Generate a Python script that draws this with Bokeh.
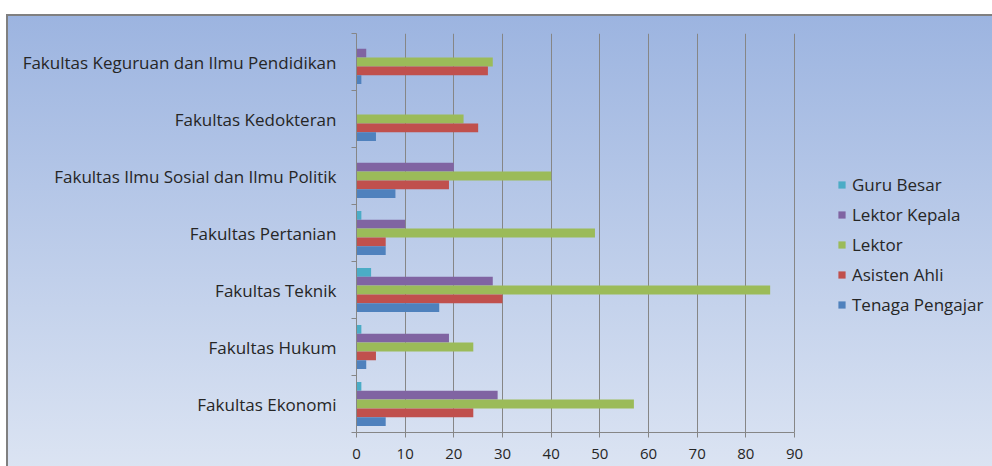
from bokeh.plotting import figure
from bokeh.models import ColumnDataSource, Range1d, FixedTicker, Legend, LegendItem
from bokeh.transform import dodge
from bokeh.embed import file_html
from bokeh.resources import INLINE

# Categories (bottom to top)
categories = ["Fakultas Ekonomi", "Fakultas Hukum", "Fakultas Teknik",
              "Fakultas Pertanian", "Fakultas Ilmu Sosial dan Ilmu Politik",
              "Fakultas Kedokteran", "Fakultas Keguruan dan Ilmu Pendidikan"]

guru_besar      = [1, 1, 3, 1, 0, 0, 0]
lektor_kepala   = [29, 19, 28, 10, 20, 0, 2]
lektor          = [57, 24, 85, 49, 40, 22, 28]
asisten_ahli    = [24, 4, 30, 6, 19, 25, 27]
tenaga_pengajar = [6, 2, 17, 6, 8, 4, 1]

series_names = ["Guru Besar", "Lektor Kepala", "Lektor", "Asisten Ahli", "Tenaga Pengajar"]
series_values = [guru_besar, lektor_kepala, lektor, asisten_ahli, tenaga_pengajar]
colors = ["#4BACC6", "#8064A2", "#9BBB59", "#C0504D", "#4F81BD"]

x_ticks = [0, 10, 20, 30, 40, 50, 60, 70, 80, 90]
x_max = 90

FONT = "Open Sans"
TEXT = "#262626"
LINE = "#868686"

W, H = 992, 466
LEFT, TOP, BOTTOM = 356, 33, 34
AXIS_PX = 438          # pixel length of the 0..90 value axis
frame_w = W - LEFT
x_end = x_max * frame_w / AXIS_PX   # frame extends beyond 90 to hold the legend

centers = [i + 0.5 for i in range(len(categories))]
data = {"y": centers}
for name, vals in zip(series_names, series_values):
    data[name] = vals
source = ColumnDataSource(data)

p = figure(width=W, height=H, output_backend="svg", toolbar_location=None,
           x_range=Range1d(0, x_end), y_range=Range1d(0, len(categories)),
           min_border_left=LEFT, min_border_right=0, min_border_top=TOP,
           min_border_bottom=BOTTOM)

p.background_fill_color = None
p.border_fill_color = None
p.outline_line_color = None
p.styles = {
    "background": ("linear-gradient(#808080,#808080) 6px 14px / 2px 100% no-repeat, "
                   "linear-gradient(#808080,#808080) 6px 14px / 100% 2px no-repeat, "
                   "linear-gradient(to bottom, #9cb4e0, #dde5f3) 6px 14px / 100% 100% no-repeat, "
                   "#ffffff")
}

bar_h = 0.154
renderers = []
for k, (name, color) in enumerate(zip(series_names, colors)):
    offset = (2 - k) * bar_h
    r = p.hbar(y=dodge("y", offset), right=name, left=0, height=bar_h,
               source=source, fill_color=color, line_color=None)
    renderers.append((name, r))

legend = Legend(items=[LegendItem(label=n, renderers=[r]) for n, r in renderers],
                location=(481, 116), orientation="vertical")
legend.background_fill_alpha = 0
legend.border_line_color = None
legend.padding = 0
legend.margin = 0
legend.spacing = 6
legend.label_height = 24
legend.glyph_width = 9
legend.glyph_height = 9
legend.label_standoff = 6
legend.label_text_font = FONT
legend.label_text_font_size = "17px"
legend.label_text_color = TEXT
p.add_layout(legend, "center")

# x axis
p.xaxis.ticker = FixedTicker(ticks=x_ticks)
p.xaxis.bounds = (0, x_max)
p.xaxis.axis_line_color = LINE
p.xaxis.major_tick_line_color = LINE
p.xaxis.major_tick_out = 5
p.xaxis.major_tick_in = 0
p.xaxis.minor_tick_line_color = None
p.xaxis.major_label_text_font = FONT
p.xaxis.major_label_text_font_size = "15px"
p.xaxis.major_label_text_color = TEXT
p.xaxis.major_label_standoff = 11

# y axis
p.yaxis.ticker = FixedTicker(ticks=centers, minor_ticks=list(range(len(categories) + 1)))
p.yaxis.major_label_overrides = {c: name for c, name in zip(centers, categories)}
p.yaxis.axis_line_color = LINE
p.yaxis.major_tick_line_color = None
p.yaxis.major_tick_out = 0
p.yaxis.major_tick_in = 0
p.yaxis.minor_tick_line_color = LINE
p.yaxis.minor_tick_out = 5
p.yaxis.minor_tick_in = 0
p.yaxis.major_label_standoff = 15
p.yaxis.major_label_text_font = FONT
p.yaxis.major_label_text_font_size = "17px"
p.yaxis.major_label_text_color = TEXT

p.xgrid.ticker = FixedTicker(ticks=x_ticks)
p.xgrid.bounds = (0, x_max)
p.xgrid.grid_line_color = LINE
p.ygrid.grid_line_color = None

open("out.html", "w").write(file_html(p, INLINE))
